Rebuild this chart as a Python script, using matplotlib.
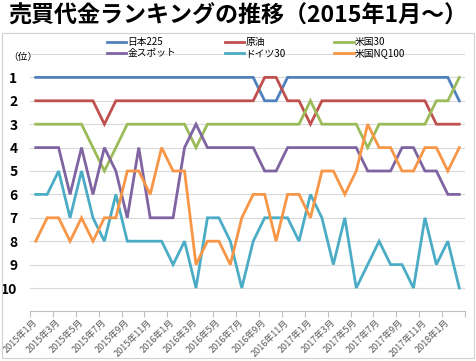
import matplotlib
matplotlib.use("Agg")
import matplotlib.pyplot as plt
from matplotlib.patches import Rectangle

plt.rcParams['font.family'] = ['Noto Sans CJK JP', 'DejaVu Sans']

# months: 2015年1月 .. 2018年2月
months = [f"{y}年{m}月" for y in range(2015, 2019) for m in range(1, 13)][:38]

nikkei225 = [1] * 20 + [2, 2] + [1] * 15 + [2]
crude_oil = [2, 2, 2, 2, 2, 2, 3, 2, 2, 2, 2, 2, 2, 2, 2, 2, 2, 2, 2, 2,
             1, 1, 2, 2, 3, 2, 2, 2, 2, 2, 2, 2, 2, 2, 2, 3, 3, 3]
us30 = [3, 3, 3, 3, 3, 4, 5, 4, 3, 3, 3, 3, 3, 3, 4, 3, 3, 3, 3, 3,
        3, 3, 3, 3, 2, 3, 3, 3, 3, 4, 3, 3, 3, 3, 3, 2, 2, 1]
gold_spot = [4, 4, 4, 6, 4, 6, 4, 5, 7, 4, 7, 7, 7, 4, 3, 4, 4, 4, 4, 4,
             5, 5, 4, 4, 4, 4, 4, 4, 4, 5, 5, 5, 4, 4, 5, 5, 6, 6]
germany30 = [6, 6, 5, 7, 5, 7, 8, 6, 8, 8, 8, 8, 9, 8, 10, 7, 7, 8, 10, 8,
             7, 7, 7, 8, 6, 7, 9, 7, 10, 9, 8, 9, 9, 10, 7, 9, 8, 10]
us_nq100 = [8, 7, 7, 8, 7, 8, 7, 7, 5, 5, 6, 4, 5, 5, 9, 8, 8, 9, 7, 6,
            6, 8, 6, 6, 7, 5, 5, 6, 5, 3, 4, 4, 5, 5, 4, 4, 5, 4]

series = [
    ("日本225", nikkei225, "#4F81BD"),
    ("原油", crude_oil, "#C0504D"),
    ("米国30", us30, "#9BBB59"),
    ("金スポット", gold_spot, "#8064A2"),
    ("ドイツ30", germany30, "#4BACC6"),
    ("米国NQ100", us_nq100, "#F79646"),
]

W, H = 476, 361
fig = plt.figure(figsize=(W / 100, H / 100), dpi=100)

# light chart-area border
fig.patches.append(Rectangle((2 / W, 1 - 358 / H), 472 / W, 325 / H,
                             transform=fig.transFigure, fill=False,
                             edgecolor="#D0D0D0", lw=0.8))

fig.text(8 / W, 1 - 16 / H, "売買代金ランキングの推移（2015年1月～）",
         fontsize=16.6, fontweight="bold", va="center", ha="left")

ax = fig.add_axes([30 / W, 1 - 311.4 / H, 435 / W, (311.4 - 54) / H])

x = list(range(len(months)))
lines = {}
for name, vals, color in series:
    lines[name], = ax.plot(x, vals, color=color, lw=2, label=name,
                           solid_joinstyle="miter")

ax.set_xlim(-0.5, len(months) - 0.5)
ax.set_ylim(11, 0)

# horizontal gridlines 0..10
ax.set_yticks(range(0, 11))
ax.set_yticklabels([""] + [str(i) for i in range(1, 11)],
                   fontsize=10, fontweight="bold")
ax.tick_params(axis="y", length=0, pad=9)
ax.grid(axis="y", color="#D9D9D9", lw=0.8)
ax.set_axisbelow(True)

# x ticks at category boundaries every 2 months, labels at centers
ax.set_xticks([i - 0.5 for i in range(0, len(months) + 1, 2)])
ax.set_xticklabels([])
ax.tick_params(axis="x", which="major", length=4, color="#BFBFBF")
ax.set_xticks(x[::2], minor=True)
ax.set_xticklabels(months[::2], minor=True, rotation=45, ha="right",
                   rotation_mode="anchor", va="center", fontsize=6.5,
                   color="#595959")
ax.tick_params(axis="x", which="minor", length=0, pad=7)

for s in ("left", "right", "top"):
    ax.spines[s].set_visible(False)
ax.spines["bottom"].set_color("#BFBFBF")
ax.spines["bottom"].set_linewidth(0.8)

fig.text(8 / W, 1 - 57 / H, "（位）", fontsize=7, va="center", ha="left")

# legend, row-major order in 3 columns
order = ["日本225", "金スポット", "原油", "ドイツ30", "米国30", "米国NQ100"]
fig.legend([lines[n] for n in order], order, ncol=3, frameon=False,
           loc="upper left", bbox_to_anchor=(107 / W, 1 - 37 / H),
           fontsize=7, handlelength=2.0, handletextpad=0.1,
           columnspacing=5.0, labelspacing=0.1, borderpad=0,
           borderaxespad=0)

fig.savefig("out.png", dpi=100)
